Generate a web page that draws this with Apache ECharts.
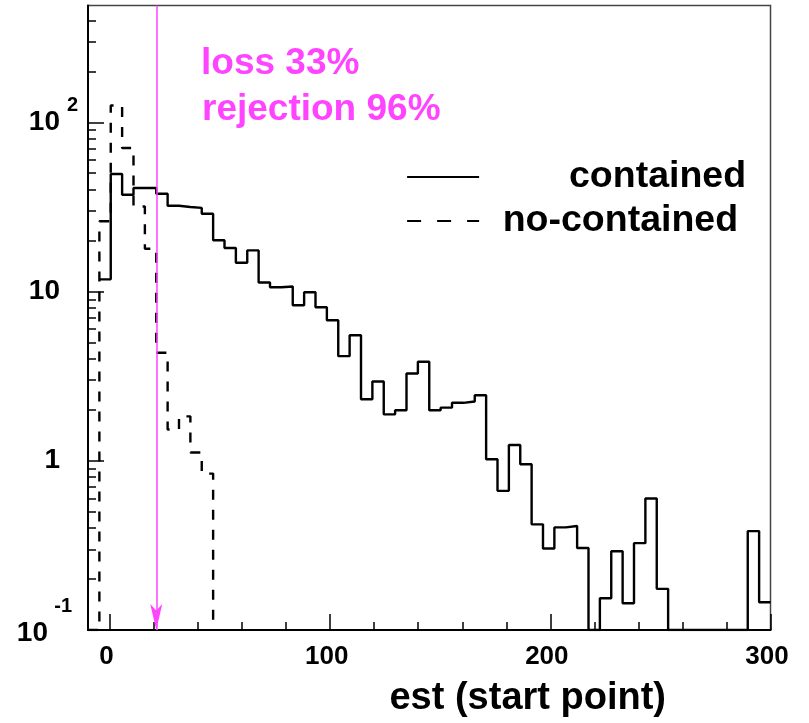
<!DOCTYPE html>
<html>
<head>
<meta charset="utf-8">
<script src="https://cdn.jsdelivr.net/npm/echarts@6/dist/echarts.min.js"></script>
<style>
  html, body { margin: 0; padding: 0; background: #ffffff; }
  #chart { width: 809px; height: 723px; }
</style>
</head>
<body>
<div id="chart"></div>
<script>
// Histogram binning: 60 equal bins from -10 to 300
const binLow = -10;
const binHigh = 300;
const binCount = 60;

// Entries per bin (null = bin not drawn, 0 = empty bin drawn on the floor)
const containedCounts = [
  null, 11.8, 49.5, 37.3, 40.9, 40.9, 37.8, 32.1, 31.6, 31.2,
  28.8, 20.1, 18.1, 14.8, 17.5, 11.3, 10.6, 10.7, 8.3, 9.9,
  8.07, 6.77, 4.15, 5.52, 2.31, 2.94, 1.88, 1.99, 3.28, 3.85,
  1.99, 2.06, 2.20, 2.24, 2.44, 1.02, 0.664, 1.24, 0.954, 0.421,
  0.303, 0.404, 0.412, 0.305, 0, 0.154, 0.292, 0.144, 0.326, 0.598,
  0.175, 0, 0, 0, 0, 0, 0, 0, 0.384, 0.146
];
const noContainedCounts = [
  0, 26.0, 125.6, 70.5, 31.8, 17.9, 4.35, 1.53, 1.83, 1.12,
  0.84, 0, 0, 0, 0, 0, 0, 0, 0, 0,
  0, 0, 0, 0, 0, 0, 0, 0, 0, 0,
  0, 0, 0, 0, 0, 0, 0, 0, 0, 0,
  0, 0, 0, 0, 0, 0, 0, 0, 0, 0,
  0, 0, 0, 0, 0, 0, 0, 0, 0, 0
];
const seriesNames = ['contained', 'no-contained'];

// Axis ranges and ticks
const xMin = -10, xMax = 300;
const xMajorTicks = [0, 100, 200, 300];
const xMinorTicks = [20, 40, 60, 80, 120, 140, 160, 180, 220, 240, 260, 280];
const yMin = 0.1, yMax = 490;
const yMajorTicks = [0.1, 1, 10, 100];
const yMinorTicks = [0.2, 0.3, 0.4, 0.5, 0.6, 0.7, 0.8, 0.9,
                     2, 3, 4, 5, 6, 7, 8, 9,
                     20, 30, 40, 50, 60, 70, 80, 90,
                     200, 300, 400];

// Cut position and its annotation
const cutValue = 21;
const noteLines = ['loss 33%', 'rejection 96%'];
const xTitle = 'est (start point)';

const FONT = '"Liberation Sans", Arial, Helvetica, sans-serif';
const MAGENTA = '#ff44ff';
const LINE_W = 2.4;

// Turn bin contents into step-line vertices (left edge of each bin, closing at the last right edge).
// A run of empty bins at the end only keeps the drop to the floor.
function stepPoints(counts) {
  const width = (binHigh - binLow) / binCount;
  let last = counts.length - 1;
  while (last > 0 && counts[last] === 0 && counts[last - 1] === 0) last--;
  const pts = [];
  for (let k = 0; k <= last; k++) {
    const c = counts[k];
    if (c === null) continue;
    pts.push([binLow + k * width, Math.max(c, yMin)]);
  }
  if (last === counts.length - 1) {
    pts.push([binHigh, Math.max(counts[last], yMin)]);
  }
  return pts;
}

// Decade labels: 10^n written with a raised exponent
function yLabel(v) {
  const p = Math.round(Math.log10(v));
  if (p === 2) return '{sup|2}\n{num|10}\n{pad| }';
  if (p === 1) return '{num|10}';
  if (p === 0) return '{num|1}';
  if (p === -1) return '{supLow|-1}\n{numLow|10}\n{padLow| }';
  return '';
}

const chart = echarts.init(document.getElementById('chart'), null, { renderer: 'canvas' });

const option = {
  animation: false,
  backgroundColor: '#ffffff',
  grid: {
    left: 88, right: 38.5, top: 5.5, bottom: 92,
    show: true, borderColor: '#444', borderWidth: 1.5, backgroundColor: '#ffffff'
  },
  xAxis: [
    {
      type: 'value', position: 'bottom', min: xMin, max: xMax,
      axisLine: { show: true, onZero: false, lineStyle: { color: '#000', width: 2 } },
      axisTick: { show: true, inside: true, length: 16, customValues: xMajorTicks,
                  lineStyle: { color: '#000', width: 1.5 } },
      axisLabel: { show: true, customValues: xMajorTicks, margin: 14,
                   fontFamily: FONT, fontSize: 26, fontWeight: 'bold', color: '#000',
                   lineHeight: 26, padding: [0, 7, 0, 0] },
      splitLine: { show: false },
      name: xTitle, nameLocation: 'middle', nameGap: 50,
      nameTextStyle: { fontFamily: FONT, fontSize: 38, fontWeight: 'bold', color: '#000',
                       lineHeight: 38, padding: [0, 0, 0, 197] }
    },
    {
      type: 'value', position: 'bottom', min: xMin, max: xMax,
      axisLine: { show: false, onZero: false },
      axisTick: { show: true, inside: true, length: 8, customValues: xMinorTicks,
                  lineStyle: { color: '#000', width: 1.5 } },
      axisLabel: { show: false },
      splitLine: { show: false }
    }
  ],
  yAxis: [
    {
      type: 'log', logBase: 10, position: 'left', min: yMin, max: yMax,
      axisLine: { show: true, onZero: false, lineStyle: { color: '#000', width: 2 } },
      axisTick: { show: true, inside: true, length: 16, customValues: yMajorTicks,
                  lineStyle: { color: '#000', width: 1.5 } },
      axisLabel: {
        show: true, customValues: yMajorTicks, margin: 10, align: 'right',
        formatter: yLabel,
        rich: {
          num:    { fontFamily: FONT, fontSize: 28, fontWeight: 'bold', color: '#000', lineHeight: 30, align: 'right', padding: [0, 18, 0, 0] },
          sup:    { fontFamily: FONT, fontSize: 20, fontWeight: 'bold', color: '#000', lineHeight: 4, align: 'right' },
          pad:    { fontFamily: FONT, fontSize: 1, lineHeight: 4, align: 'right' },
          numLow: { fontFamily: FONT, fontSize: 28, fontWeight: 'bold', color: '#000', lineHeight: 30, align: 'right', padding: [0, 30, 0, 0] },
          supLow: { fontFamily: FONT, fontSize: 20, fontWeight: 'bold', color: '#000', lineHeight: 24, align: 'right', padding: [0, 6, 0, 0] },
          padLow: { fontFamily: FONT, fontSize: 1, lineHeight: 18, align: 'right' }
        }
      },
      splitLine: { show: false }
    },
    {
      type: 'log', logBase: 10, position: 'left', min: yMin, max: yMax,
      axisLine: { show: false, onZero: false },
      axisTick: { show: true, inside: true, length: 8, customValues: yMinorTicks,
                  lineStyle: { color: '#000', width: 1.5 } },
      axisLabel: { show: false },
      splitLine: { show: false }
    }
  ],
  legend: {
    orient: 'vertical', left: 406, top: 158, padding: 0,
    itemWidth: 72, itemHeight: 14, itemGap: 6,
    selectedMode: false,
    itemStyle: { color: 'rgba(0,0,0,0)', borderWidth: 0 },
    formatter: function (name) { return name === seriesNames[0] ? '{c|' + name + '}' : '{n|' + name + '}'; },
    textStyle: {
      color: '#000',
      rich: {
        c: { fontFamily: FONT, fontSize: 37.5, fontWeight: 'bold', color: '#000', lineHeight: 36, width: 262, align: 'right' },
        n: { fontFamily: FONT, fontSize: 37.5, fontWeight: 'bold', color: '#000', lineHeight: 36, width: 254, align: 'right' }
      }
    },
    data: [
      { name: seriesNames[0], lineStyle: { type: 'solid', width: 2.2, color: '#000' } },
      { name: seriesNames[1], lineStyle: { type: [14, 16], width: 2.2, color: '#000' } }
    ]
  },
  graphic: [
    { type: 'text', x: 201, y: 64, z: 10,
      style: { text: noteLines[0], font: 'bold 37px ' + FONT, fill: MAGENTA, verticalAlign: 'middle' } },
    { type: 'text', x: 202, y: 110, z: 10,
      style: { text: noteLines[1], font: 'bold 37px ' + FONT, fill: MAGENTA, verticalAlign: 'middle' } }
  ],
  series: [
    {
      name: 'cut', type: 'line', data: [], z: 1, silent: true,
      markLine: {
        silent: true, animation: false,
        symbol: ['none', 'arrow'], symbolSize: [9, 26],
        lineStyle: { color: MAGENTA, width: 1.5, type: 'solid' },
        itemStyle: { color: MAGENTA },
        label: { show: false },
        data: [[{ coord: [cutValue, yMax] }, { coord: [cutValue, yMin] }]]
      }
    },
    {
      name: seriesNames[0], type: 'line', step: 'end', z: 3,
      xAxisIndex: 0, yAxisIndex: 0,
      data: stepPoints(containedCounts),
      symbol: 'none', showSymbol: false,
      lineStyle: { color: '#000', width: LINE_W, type: 'solid' },
      itemStyle: { color: '#000' }
    },
    {
      name: seriesNames[1], type: 'line', step: 'end', z: 3,
      xAxisIndex: 0, yAxisIndex: 0,
      data: stepPoints(noContainedCounts),
      symbol: 'none', showSymbol: false,
      lineStyle: { color: '#000', width: LINE_W, type: [10, 10] },
      itemStyle: { color: '#000' }
    }
  ]
};

chart.setOption(option);
</script>
</body>
</html>
